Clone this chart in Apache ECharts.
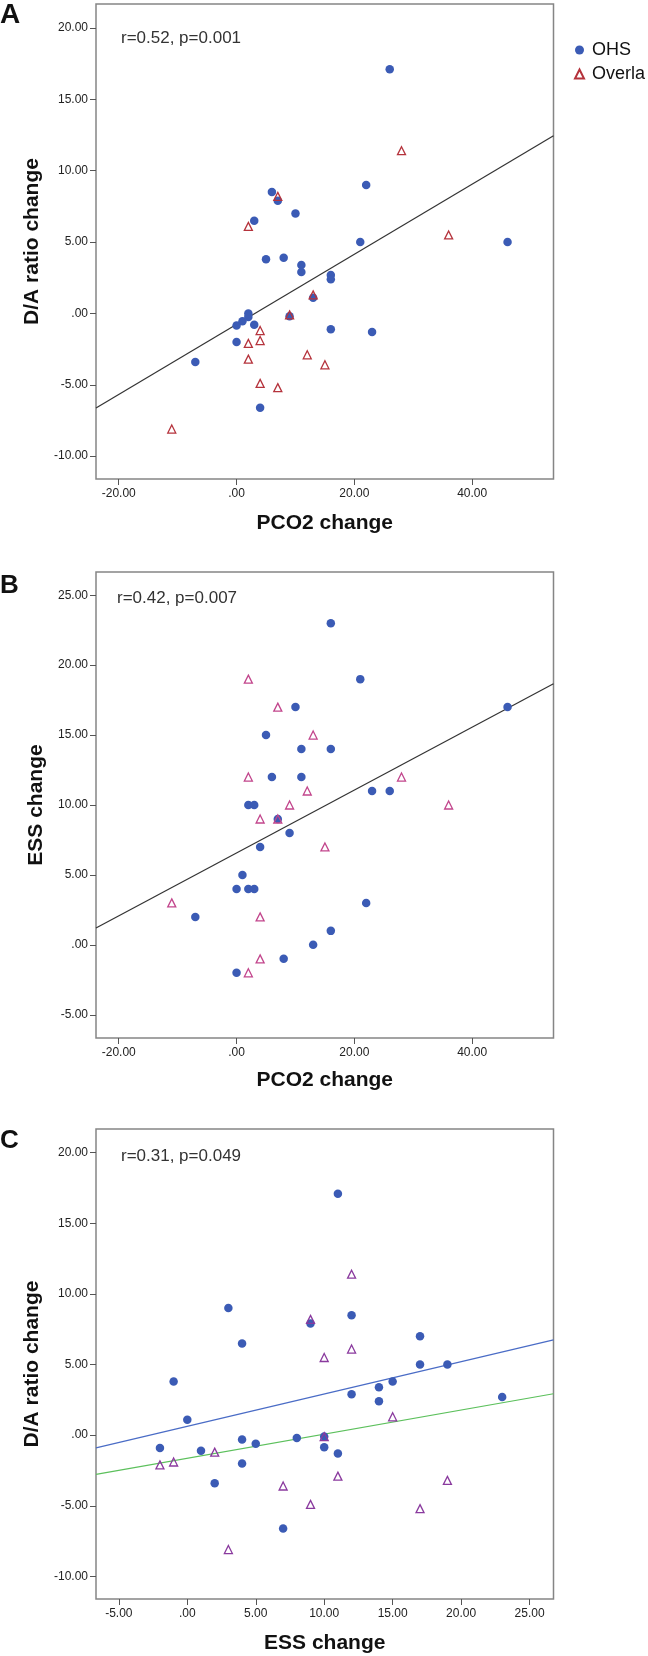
<!DOCTYPE html>
<html><head><meta charset="utf-8">
<script src="https://cdn.jsdelivr.net/npm/echarts@6/dist/echarts.min.js"></script>
<style>html,body{margin:0;padding:0;background:#fff}#c{width:648px;height:1656px}</style>
</head><body><div id="c"></div><script>
// ---------- data ----------
const groupNames = ['OHS', 'Overla'];
// Panel A: PCO2 change (x) vs D/A ratio change (y)
const aOHS = [[26,17.1],[22,9.0],[6,8.5],[7,7.9],[10,7.0],[3,6.5],[21,5.0],[46,5.0],[5,3.8],[8,3.9],[11,3.4],[11,2.9],[16,2.7],[16,2.4],[13,1.1],[9,-0.2],[2,0.0],[2,-0.25],[1,-0.55],[0,-0.85],[3,-0.8],[16,-1.1],[23,-1.3],[0,-2.0],[-7,-3.4],[4,-6.6]];
const aOverlap = [[28,11.4],[7,8.2],[2,6.1],[36,5.5],[13,1.3],[9,-0.1],[4,-1.2],[2,-2.1],[4,-1.9],[12,-2.9],[2,-3.2],[15,-3.6],[4,-4.9],[7,-5.2],[-11,-8.1]];
// Panel B: PCO2 change (x) vs ESS change (y)
const bOHS = [[16,23],[21,19],[10,17],[46,17],[5,15],[11,14],[16,14],[6,12],[11,12],[23,11],[26,11],[2,10],[3,10],[7,9],[9,8],[4,7],[1,5],[0,4],[2,4],[3,4],[22,3],[-7,2],[16,1],[13,0],[8,-1],[0,-2]];
const bOverlap = [[2,19],[7,17],[13,15],[2,12],[28,12],[12,11],[9,10],[36,10],[4,9],[7,9],[15,7],[-11,3],[4,2],[4,-1],[2,-2]];
// Panel C: ESS change (x) vs D/A ratio change (y)
const cOHS = [[11,17.1],[3,9.0],[12,8.5],[9,7.9],[4,6.5],[17,7.0],[17,5.0],[19,5.0],[-1,3.8],[14,3.4],[15,3.8],[12,2.9],[14,2.4],[23,2.7],[0,1.1],[4,-0.3],[5,-0.6],[8,-0.2],[10,-0.1],[10,-0.85],[11,-1.3],[-2,-0.9],[1,-1.1],[4,-2.0],[2,-3.4],[7,-6.6]];
const cOverlap = [[12,11.4],[9,8.2],[12,6.1],[10,5.5],[15,1.3],[10,-0.1],[2,-1.2],[-2,-2.1],[-1,-1.9],[11,-2.9],[19,-3.2],[7,-3.6],[9,-4.9],[17,-5.2],[3,-8.1]];
// fit lines: [intercept, slope]
const fitA = [-0.76, 0.2456];
const fitB = [6.57, 0.2248];
const fitC_OHS = [0.627, 0.229];
const fitC_Overlap = [-1.64, 0.171];
// annotations
const statA = 'r=0.52, p=0.001';
const statB = 'r=0.42, p=0.007';
const statC = 'r=0.31, p=0.049';
// axis titles
const titlePCO2 = 'PCO2 change';
const titleDA = 'D/A ratio change';
const titleESS = 'ESS change';
// tick values
const ticksPCO2 = [-20, 0, 20, 40];
const ticksDA = [-10, -5, 0, 5, 10, 15, 20];
const ticksESSy = [-5, 0, 5, 10, 15, 20, 25];
const ticksESSx = [-5, 0, 5, 10, 15, 20, 25];
// axis extents
const rangePCO2 = [-23.86, 53.8];
const rangeDA = [-11.6, 21.68];
const rangeESSy = [-6.66, 26.66];
const rangeESSx = [-6.67, 26.75];

// ---------- styling ----------
const FONT = 'Liberation Sans, Arial, sans-serif';
const BLUE = '#3b5bb5';
const RED = '#b5333c';
const PINK = '#c2458c';
const PURPLE = '#8a3a9e';
const fmt = v => { let s = Number(v).toFixed(2); return s.replace(/^(-?)0\./, '$1.'); };

function fitLine(fit, range) {
  return range.map(x => [x, fit[0] + fit[1] * x]);
}
function xAx(grid, range, ticks, name, gap) {
  return {
    type: 'value', gridIndex: grid, min: range[0], max: range[1], position: 'bottom',
    name: name, nameLocation: 'middle', nameGap: gap,
    nameTextStyle: { fontFamily: FONT, fontSize: 21, fontWeight: 'bold', color: '#111' },
    axisLine: { show: false, onZero: false }, splitLine: { show: false },
    axisTick: { show: true, length: 6, customValues: ticks, lineStyle: { color: '#555', width: 1 } },
    axisLabel: { customValues: ticks, formatter: fmt, margin: 9, fontFamily: FONT, fontSize: 12, color: '#222' }
  };
}
function yAx(grid, range, ticks, name, gap) {
  return {
    type: 'value', gridIndex: grid, min: range[0], max: range[1], position: 'left',
    name: name, nameLocation: 'middle', nameGap: gap, nameRotate: 90,
    nameTextStyle: { fontFamily: FONT, fontSize: 21, fontWeight: 'bold', color: '#111' },
    axisLine: { show: false, onZero: false }, splitLine: { show: false },
    axisTick: { show: true, length: 6, customValues: ticks, lineStyle: { color: '#555', width: 1 } },
    axisLabel: { customValues: ticks, formatter: fmt, margin: 8, fontFamily: FONT, fontSize: 12, color: '#222' }
  };
}
function circles(name, data, gi) {
  return { name: name, type: 'scatter', xAxisIndex: gi, yAxisIndex: gi, data: data, symbol: 'circle', symbolSize: 8.5,
    itemStyle: { color: BLUE, opacity: 1 }, z: 3 };
}
function triangles(name, data, gi, color) {
  return { name: name, type: 'scatter', xAxisIndex: gi, yAxisIndex: gi, data: data, symbol: 'triangle', symbolSize: 8,
    itemStyle: { color: 'rgba(255,255,255,0)', borderColor: color, borderWidth: 1.3, opacity: 1 }, z: 4 };
}
function line(data, gi, color) {
  return { type: 'line', xAxisIndex: gi, yAxisIndex: gi, data: data, showSymbol: false, symbol: 'none', silent: true,
    lineStyle: { color: color, width: 1.2 }, z: 2, animation: false };
}
const gridBase = { left: 96, right: 94.5, show: true, borderColor: '#858585', borderWidth: 1.5, backgroundColor: '#fff' };

const chart = echarts.init(document.getElementById('c'), null, { renderer: 'canvas' });
chart.setOption({
  animation: false,
  backgroundColor: '#fff',
  grid: [
    Object.assign({ top: 4, height: 475 }, gridBase),
    Object.assign({ top: 572, height: 466 }, gridBase),
    Object.assign({ top: 1129, height: 470 }, gridBase)
  ],
  xAxis: [
    xAx(0, rangePCO2, ticksPCO2, titlePCO2, 34),
    xAx(1, rangePCO2, ticksPCO2, titlePCO2, 32),
    xAx(2, rangeESSx, ticksESSx, titleESS, 34)
  ],
  yAxis: [
    yAx(0, rangeDA, ticksDA, titleDA, 53),
    yAx(1, rangeESSy, ticksESSy, titleESS, 47),
    yAx(2, rangeDA, ticksDA, titleDA, 53)
  ],
  legend: {
    data: groupNames, orient: 'vertical', left: 569, top: 36, itemWidth: 9, itemHeight: 9, itemGap: 6,
    selectedMode: false,
    textStyle: { fontFamily: FONT, fontSize: 18, color: '#111', padding: [0, 0, 0, 3] }
  },
  series: [
    line(fitLine(fitA, rangePCO2), 0, '#333'),
    circles(groupNames[0], aOHS, 0),
    triangles(groupNames[1], aOverlap, 0, RED),
    line(fitLine(fitB, rangePCO2), 1, '#333'),
    circles(groupNames[0], bOHS, 1),
    triangles(groupNames[1], bOverlap, 1, PINK),
    line(fitLine(fitC_OHS, rangeESSx), 2, '#4a6cc6'),
    line(fitLine(fitC_Overlap, rangeESSx), 2, '#5cc05c'),
    circles(groupNames[0], cOHS, 2),
    triangles(groupNames[1], cOverlap, 2, PURPLE)
  ],
  graphic: [
    { type: 'text', left: 0, top: 1, style: { text: 'A', fontFamily: FONT, fontSize: 28, fontWeight: 'bold', fill: '#111' } },
    { type: 'text', left: 0, top: 573, style: { text: 'B', fontFamily: FONT, fontSize: 26, fontWeight: 'bold', fill: '#111' } },
    { type: 'text', left: 0, top: 1128, style: { text: 'C', fontFamily: FONT, fontSize: 26, fontWeight: 'bold', fill: '#111' } },
    { type: 'text', left: 121, top: 30, style: { text: statA, fontFamily: FONT, fontSize: 17, fill: '#333' } },
    { type: 'text', left: 117, top: 590, style: { text: statB, fontFamily: FONT, fontSize: 17, fill: '#333' } },
    { type: 'text', left: 121, top: 1148, style: { text: statC, fontFamily: FONT, fontSize: 17, fill: '#333' } }
  ]
});
</script></body></html>
